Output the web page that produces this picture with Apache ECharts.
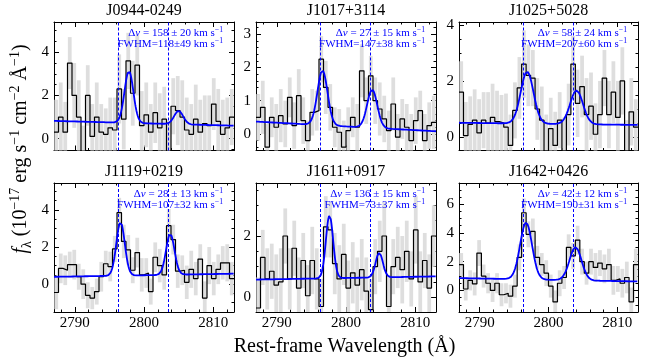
<!DOCTYPE html>
<html>
<head>
<meta charset="utf-8">
<script src="https://cdn.jsdelivr.net/npm/echarts@6/dist/echarts.min.js"></script>
<style>
  html, body { margin: 0; padding: 0; background: #fff; }
  #chart { width: 652px; height: 360px; }
</style>
</head>
<body>
<div id="chart"></div>
<script>
// ---- Mg II doublet spectra, rest frame ----
const MGII = [2796.35, 2803.53];          // rest wavelengths of the doublet (Å)
const C_KMS = 299792.458;
const INSTR_FWHM = 110;                   // instrumental broadening (km/s)
const WAVE_MIN = 2787, WAVE_MAX = 2813;
const BIN_START = 2787.0, BIN_WIDTH = 0.65;

const objectNames = ['J0944-0249', 'J1017+3114', 'J1025+5028', 'J1119+0219', 'J1611+0917', 'J1642+0426'];

// flux density per spectral pixel (1e-17 erg/s/cm2/Å)
const fluxJ0944 = [0.3, 1.0, 0.3, 3.5, 2.0, 1.0, -0.7, 2.0, 0.1, 1.0, 0.3, 0.2, 0.5, 0.4, 2.3, 0.9, 3.6, 2.1, 3.4, 0.6,
                   1.1, 0.3, 1.2, 0.5, 0.9, -0.6, 1.5, 1.3, 1.0, 0.4, 0.2, 0.9, 0.3, 0.7, 0.6, 1.6, 0.8, 0.2, 0.5, 1.0];
const fluxJ1017 = [0.5, 0.8, -0.4, 0.5, 0.2, 0.55, 0.3, 1.1, 0.25, 1.15, 0.4, -0.2, 0.65, 0.7, 2.25, 1.4, 0.8, 0.2, 0.05, -0.4,
                   0.1, 0.5, 0.2, 1.9, 1.0, 1.75, 1.0, 0.75, 0.45, 0.1, 0.9, -0.1, 0.45, 0.2, -0.2, 0.4, 0.7, -0.2, 0.25, 0.35];
const fluxJ1025 = [1.6, 0.05, 0.45, 0.6, 0.15, 0.6, 0.5, 0.7, 0.55, 0.5, 0.35, -0.3, 0.95, 1.75, 2.6, 2.2, 2.1, 1.0, 0.6, -0.5,
                   0.3, -0.3, 0.6, -0.5, 0.8, 2.6, 1.2, 1.8, 0.8, 1.1, 0.1, 0.8, 2.1, 0.8, 1.6, 0.7, 2.0, -0.5, 0.9, 0.35];
const fluxJ1119 = [-0.45, 0.85, 0.75, 1.05, 1.05, 0.4, 0.0, -0.6, -0.75, -0.4, 0.4, 1.1, 0.95, 1.9, 3.85, 2.3, 1.85, 0.75, 1.7, 0.5,
                   0.6, -0.4, 1.45, 1.0, 0.5, 3.15, 2.4, 0.7, 0.75, 0.1, 0.8, 0.3, 1.35, -0.75, 1.0, 0.3, 0.8, 1.15, 1.15, 0.3];
const fluxJ1611 = [-0.35, 1.3, 0.6, 0.85, 0.4, 0.5, 2.0, 0.6, 1.6, 0.3, 1.2, 0.05, 1.2, 0.6, -0.3, 2.3, 2.2, 1.1, 0.6, 1.4,
                   0.3, 0.8, 0.4, 0.9, 0.2, -0.4, 1.0, 1.5, 2.0, -0.3, 1.0, 1.3, 0.9, 1.5, 0.6, 2.2, 0.5, 1.2, 0.3, 2.0];
const fluxJ1642 = [1.8, 0.1, 0.7, 0.45, 2.6, 1.0, 0.5, 0.0, 0.5, -0.3, -0.2, -0.4, 0.3, 2.3, 5.4, 3.9, 4.1, 2.3, 1.8, 1.2,
                   0.3, -0.8, 0.5, 0.9, 3.0, 2.4, 3.5, 2.0, 1.2, 2.0, 1.6, 1.9, 1.5, 1.8, 0.7, 0.8, 0.5, 0.9, -0.8, 1.8];

// 1-sigma uncertainties per pixel
const errJ0944 = [1.5, 1.6, 1.4, 1.2, 1.5, 1.7, 1.3, 1.4, 1.5, 1.6, 1.3, 1.2, 1.4, 1.5, 1.6, 1.4, 1.3, 1.5, 1.4, 1.6,
                  1.5, 1.3, 1.4, 1.6, 1.5, 1.4, 1.3, 1.6, 1.7, 1.5, 1.4, 1.6, 1.5, 1.3, 1.4, 1.2, 1.5, 1.6, 1.4, 1.3];
const errJ1017 = [0.7, 0.8, 0.7, 0.6, 0.7, 0.8, 0.7, 0.6, 0.7, 0.8, 0.7, 0.6, 0.7, 0.6, 0.7, 0.8, 0.7, 0.6, 0.7, 0.8,
                  0.7, 0.6, 0.7, 0.8, 0.7, 0.6, 0.7, 0.8, 0.7, 0.6, 0.8, 0.7, 0.6, 0.7, 0.8, 0.7, 0.6, 0.8, 0.7, 0.8];
const errJ1025 = [1.1, 1.2, 1.0, 1.1, 1.2, 1.0, 1.1, 1.2, 1.1, 1.0, 1.2, 1.1, 1.0, 1.1, 1.2, 1.1, 1.0, 1.1, 1.2, 1.3,
                  1.1, 1.2, 1.0, 1.2, 1.1, 1.0, 1.2, 1.1, 1.3, 1.2, 1.1, 1.2, 1.0, 1.2, 1.1, 1.3, 1.2, 1.1, 1.2, 1.0];
const errJ1119 = [0.9, 0.8, 0.8, 0.7, 0.8, 0.7, 0.8, 0.7, 0.6, 0.7, 0.8, 0.7, 0.8, 0.7, 0.8, 0.9, 0.8, 0.7, 0.8, 0.9,
                  0.8, 0.7, 0.8, 0.9, 0.8, 0.9, 0.8, 0.9, 0.8, 0.9, 1.0, 0.9, 0.8, 0.9, 1.0, 0.9, 0.8, 0.9, 1.0, 0.9];
const errJ1611 = [1.0, 0.9, 1.0, 0.9, 1.0, 1.1, 0.9, 1.0, 0.9, 1.0, 0.9, 1.0, 1.1, 1.0, 0.9, 1.0, 0.9, 1.0, 1.1, 1.0,
                  0.9, 1.0, 0.9, 1.0, 1.1, 1.0, 0.9, 1.0, 1.1, 1.0, 0.9, 1.0, 1.1, 1.0, 0.9, 1.1, 1.0, 0.9, 1.1, 1.0];
const errJ1642 = [0.8, 0.8, 0.7, 0.8, 0.9, 0.8, 0.7, 0.8, 0.7, 0.8, 0.7, 0.8, 0.8, 0.9, 1.0, 0.9, 0.9, 0.8, 0.8, 0.9,
                  0.8, 0.8, 0.9, 0.8, 0.9, 0.9, 1.0, 0.9, 0.8, 0.9, 1.0, 0.9, 1.0, 1.1, 1.0, 0.9, 1.0, 1.1, 1.0, 1.1];

const fluxes = [fluxJ0944, fluxJ1017, fluxJ1025, fluxJ1119, fluxJ1611, fluxJ1642];
const errors = [errJ0944, errJ1017, errJ1025, errJ1119, errJ1611, errJ1642];

// double-Gaussian fit results
const dv       = [158, 27, 58, 28, 136, 42];         // velocity offset (km/s)
const dvErr    = [20, 15, 24, 13, 15, 12];
const fwhm     = [118, 147, 207, 107, 73, 190];      // intrinsic FWHM (km/s)
const fwhmErr  = [49, 38, 60, 32, 37, 31];
const cont2800 = [0.71, 0.225, 0.47, 0.48, 0.63, 0.74]; // continuum level at 2800 Å
const contSlope = [-0.0085, -0.0112, -0.003, 0.0065, 0.004, -0.009]; // per Å
const amp2796  = [2.4, 1.65, 1.85, 2.88, 2.05, 3.95];
const amp2803  = [0.62, 1.15, 1.2, 2.2, 0.8, 2.3];

// axis ranges and ticks
const yMin = [-0.55, -0.5, -0.48, -1.5, -0.48, -1.5];
const yMax = [5.4, 3.37, 4.1, 5.45, 3.73, 7.47];
const yTickLabels = [[0, 2, 4], [0, 1, 2, 3], [0, 2, 4], [0, 2, 4], [0, 2], [0, 2, 4, 6]];
const yMinorStep = [0.5, 0.2, 0.5, 0.5, 0.5, 0.5];
const xTickLabels = [2790, 2800, 2810];
const xMinorTicks = [2788, 2792, 2794, 2796, 2798, 2802, 2804, 2806, 2808, 2812];

// ---- layout / style ----
const SERIF = 'Liberation Serif';
const BLUE = '#0000ff';
const GREY = '#dedede';
const COL_LEFT = [54, 256, 459];
const COL_W = [180, 180, 179];
const ROW_TOP = [22, 183];
const ROW_H = [128.5, 129];
const MAJOR_LEN = 5, MINOR_LEN = 2.5;

function minorValues(lo, hi, step, majors) {
  const out = [];
  const start = Math.ceil(lo / step - 1e-9);
  for (let k = start; k * step <= hi + 1e-9; k++) {
    const v = +(k * step).toFixed(4);
    if (!majors.some(m => Math.abs(m - v) < 1e-6)) out.push(v);
  }
  return out;
}

function baseAxis(p, position, min, max, major, tickValues, labelValues, margin) {
  return {
    type: 'value', gridIndex: p, position: position, min: min, max: max,
    axisLine: { show: major, onZero: false, lineStyle: { color: '#000', width: 1 } },
    splitLine: { show: false },
    minorTick: { show: false },
    axisTick: { show: true, inside: true, length: major ? MAJOR_LEN : MINOR_LEN,
                customValues: tickValues, lineStyle: { color: '#000', width: 1 } },
    axisLabel: labelValues ? {
      show: true, customValues: labelValues, formatter: v => String(v), margin: margin,
      color: '#000', fontFamily: SERIF, fontSize: 15
    } : { show: false }
  };
}

function modelFlux(p, w) {
  const z = 1 + dv[p] / C_KMS;
  const c1 = MGII[0] * z, c2 = MGII[1] * z;
  const wkms = Math.sqrt(fwhm[p] * fwhm[p] + INSTR_FWHM * INSTR_FWHM);
  const s1 = c1 * wkms / C_KMS / 2.3548, s2 = c2 * wkms / C_KMS / 2.3548;
  return cont2800[p] + contSlope[p] * (w - 2800)
    + amp2796[p] * Math.exp(-0.5 * Math.pow((w - c1) / s1, 2))
    + amp2803[p] * Math.exp(-0.5 * Math.pow((w - c2) / s2, 2));
}

const option = {
  animation: false,
  backgroundColor: '#fff',
  grid: [], xAxis: [], yAxis: [], series: [], graphic: []
};

for (let p = 0; p < 6; p++) {
  const r = Math.floor(p / 3), c = p % 3;
  const left = COL_LEFT[c], top = ROW_TOP[r], w = COL_W[c], h = ROW_H[r];
  option.grid.push({ left: left, top: top, width: w, height: h, containLabel: false });

  const bottomRow = r === 1;
  // x axes: bottom major, bottom minor, top major, top minor
  option.xAxis.push(baseAxis(p, 'bottom', WAVE_MIN, WAVE_MAX, true, xTickLabels, bottomRow ? xTickLabels : null, 4));
  option.xAxis.push(baseAxis(p, 'bottom', WAVE_MIN, WAVE_MAX, false, xMinorTicks, null));
  option.xAxis.push(baseAxis(p, 'top', WAVE_MIN, WAVE_MAX, true, xTickLabels, null));
  option.xAxis.push(baseAxis(p, 'top', WAVE_MIN, WAVE_MAX, false, xMinorTicks, null));

  const yMinors = minorValues(yMin[p], yMax[p], yMinorStep[p], yTickLabels[p]);
  option.yAxis.push(baseAxis(p, 'left', yMin[p], yMax[p], true, yTickLabels[p], yTickLabels[p], 5));
  option.yAxis.push(baseAxis(p, 'left', yMin[p], yMax[p], false, yMinors, null));
  option.yAxis.push(baseAxis(p, 'right', yMin[p], yMax[p], true, yTickLabels[p], null));
  option.yAxis.push(baseAxis(p, 'right', yMin[p], yMax[p], false, yMinors, null));

  const xi = 4 * p, yi = 4 * p;
  const flux = fluxes[p], err = errors[p];

  // error bands per pixel
  const errData = flux.map((f, i) => [BIN_START + i * BIN_WIDTH, BIN_START + (i + 1) * BIN_WIDTH, f - err[i], f + err[i]]);
  option.series.push({
    type: 'custom', xAxisIndex: xi, yAxisIndex: yi, z: 1,
    encode: { x: [0, 1], y: [2, 3] },
    data: errData,
    renderItem: function (params, api) {
      const a = api.coord([api.value(0), api.value(3)]);
      const b = api.coord([api.value(1), api.value(2)]);
      const bw = b[0] - a[0];
      const inset = bw * 0.08;
      const cs = params.coordSys;
      const shape = echarts.graphic.clipRectByRect(
        { x: a[0] + inset, y: a[1], width: bw - 2 * inset, height: b[1] - a[1] },
        { x: cs.x, y: cs.y, width: cs.width, height: cs.height });
      return shape && { type: 'rect', shape: shape, style: { fill: GREY } };
    }
  });

  // histogram-style spectrum
  const stepData = flux.map((f, i) => [BIN_START + i * BIN_WIDTH, f]);
  stepData.push([BIN_START + flux.length * BIN_WIDTH, flux[flux.length - 1]]);
  option.series.push({
    type: 'line', xAxisIndex: xi, yAxisIndex: yi, z: 2, step: 'end',
    showSymbol: false, symbol: 'none', clip: true,
    lineStyle: { color: '#000', width: 1.2 },
    data: stepData
  });

  // best-fit model with doublet markers
  const fitData = [];
  for (let k = 0; k <= 520; k++) {
    const wv = WAVE_MIN + k * 0.05;
    fitData.push([wv, modelFlux(p, wv)]);
  }
  option.series.push({
    type: 'line', xAxisIndex: xi, yAxisIndex: yi, z: 3,
    showSymbol: false, symbol: 'none', clip: true,
    lineStyle: { color: BLUE, width: 1.8 },
    data: fitData,
    markLine: {
      silent: true, symbol: ['none', 'none'], label: { show: false },
      lineStyle: { color: BLUE, type: [3, 2], width: 1 },
      data: MGII.map(m => ({ xAxis: m }))
    }
  });

  // panel title
  option.graphic.push({
    type: 'text', x: left + w / 2, y: r === 0 ? 11 : 172,
    style: { text: objectNames[p], fontSize: 16, fontFamily: SERIF, fill: '#000', align: 'center', verticalAlign: 'middle' }
  });

  // fit annotation
  const annRich = {
    n: { fontSize: 11, fontFamily: SERIF, fill: BLUE, lineHeight: 14 },
    it: { fontSize: 11, fontFamily: SERIF, fontStyle: 'italic', fill: BLUE, lineHeight: 14 },
    sup: { fontSize: 7.7, fontFamily: SERIF, fill: BLUE, lineHeight: 8, verticalAlign: 'top' }
  };
  option.graphic.push({
    type: 'text', x: left + w - 11, y: top + 11, z: 10,
    style: { text: '{n|\u0394}{it|v}{n| = ' + dv[p] + ' \u00b1 ' + dvErr[p] + ' km s}{sup|\u22121}',
             rich: annRich, align: 'right', verticalAlign: 'middle' }
  });
  option.graphic.push({
    type: 'text', x: left + w - 11, y: top + 22, z: 10,
    style: { text: '{n|FWHM=' + fwhm[p] + '\u00b1' + fwhmErr[p] + ' km s}{sup|\u22121}',
             rich: annRich, align: 'right', verticalAlign: 'middle' }
  });
}

// shared axis titles
const labRich = {
  n: { fontSize: 20, fontFamily: SERIF, fill: '#000', lineHeight: 26 },
  it: { fontSize: 20, fontFamily: SERIF, fontStyle: 'italic', fill: '#000', lineHeight: 26 },
  sub: { fontSize: 14, fontFamily: SERIF, fill: '#000', lineHeight: 18, verticalAlign: 'bottom' },
  sup: { fontSize: 14, fontFamily: SERIF, fill: '#000', lineHeight: 14, verticalAlign: 'top' }
};
option.graphic.push({
  type: 'text', x: 21, y: 149, rotation: Math.PI / 2,
  style: { text: '{it|f}{sub|\u03bb}{n| (10}{sup|\u221217}{n| erg s}{sup|\u22121}{n| cm}{sup|\u22122}{n| \u00c5}{sup|\u22121}{n|)}',
           rich: labRich, align: 'center', verticalAlign: 'middle' }
});
option.graphic.push({
  type: 'text', x: 344.5, y: 347,
  style: { text: 'Rest-frame Wavelength (\u00c5)', fontSize: 20, fontFamily: SERIF, fill: '#000',
           align: 'center', verticalAlign: 'middle' }
});

const chart = echarts.init(document.getElementById('chart'), null, { renderer: 'canvas' });
chart.setOption(option);
</script>
</body>
</html>
